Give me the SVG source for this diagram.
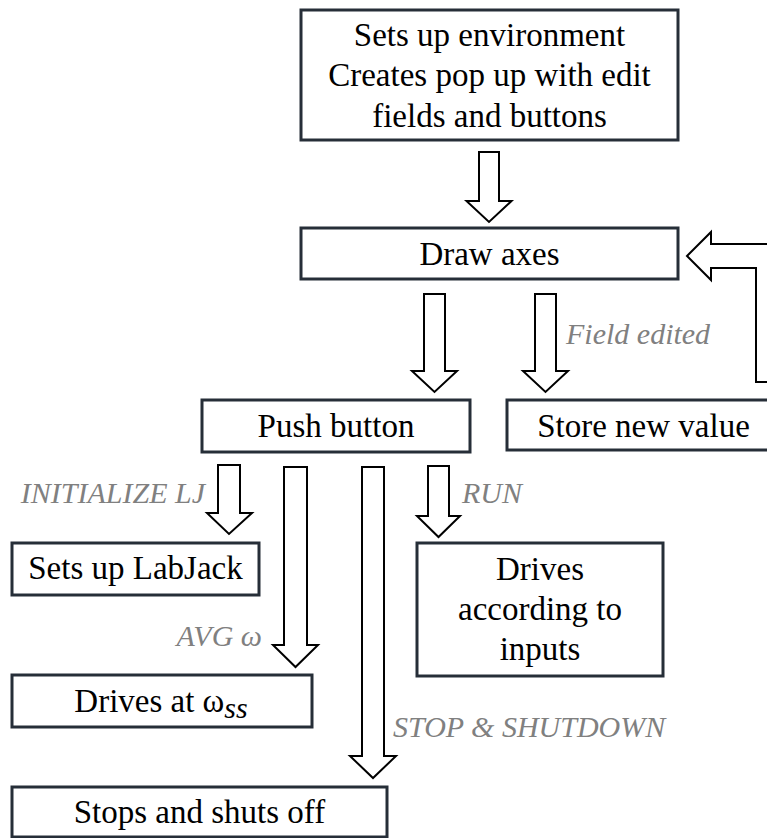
<svg xmlns="http://www.w3.org/2000/svg" width="767" height="838" viewBox="0 0 767 838">
<style>
.box{fill:#ffffff;stroke:#262e38;stroke-width:3}
.t{font-size:33px;fill:#000000;text-anchor:middle}
.lbl{font-size:30px;font-style:italic;fill:#808080}
.arr{fill:#ffffff;stroke:#000000;stroke-width:2;stroke-linejoin:miter}
</style>
<rect width="767" height="838" fill="#ffffff"/>
<g font-family="Liberation Serif, serif">
<g id="connectors">
<path class="arr" d="M479,152 H499 V201 H511.5 L489,222 L466.5,201 H479 Z"/>
<path class="arr" d="M424,294 H445 V371 H457 L434.5,392 L412,371 H424 Z"/>
<path class="arr" d="M535,294 H556 V371 H568 L545.5,392 L523,371 H535 Z"/>
<path class="arr" d="M687,256 L711,232 V244 H780 V382 H756 V268 H711 V280 Z"/>
<path class="arr" d="M218,465 H240 V513 H252 L229,534 L207,513 H218 Z"/>
<path class="arr" d="M284,467 H307 V645 H318 L295.5,667 L273,645 H284 Z"/>
<path class="arr" d="M362,467 H384 V756 H396 L373,778 L350,756 H362 Z"/>
<path class="arr" d="M428,466 H449 V516 H460 L438.5,537 L417,516 H428 Z"/>
<text class="lbl" x="566" y="344">Field edited</text>
<text class="lbl" x="205" y="503" text-anchor="end">INITIALIZE LJ</text>
<text class="lbl" x="462" y="503">RUN</text>
<text class="lbl" x="262" y="646" text-anchor="end">AVG ω</text>
<text class="lbl" x="393" y="737">STOP &amp; SHUTDOWN</text>
</g>
<g id="setup">
<rect class="box" x="301" y="10" width="377" height="130"/>
<text class="t" x="489.5" y="46">Sets up environment</text>
<text class="t" x="489.5" y="86">Creates pop up with edit</text>
<text class="t" x="489.5" y="127">fields and buttons</text>
</g>
<g id="draw-axes">
<rect class="box" x="301" y="228" width="377" height="51"/>
<text class="t" x="489.5" y="265">Draw axes</text>
</g>
<g id="push-button">
<rect class="box" x="202" y="400" width="268" height="52"/>
<text class="t" x="336" y="437">Push button</text>
</g>
<g id="store-value">
<rect class="box" x="507" y="400" width="273" height="50"/>
<text class="t" x="643.5" y="437">Store new value</text>
</g>
<g id="labjack">
<rect class="box" x="12" y="543" width="247" height="52"/>
<text class="t" x="135.5" y="579">Sets up LabJack</text>
</g>
<g id="drives-inputs">
<rect class="box" x="417" y="543" width="246" height="133"/>
<text class="t" x="540" y="580">Drives</text>
<text class="t" x="540" y="620">according to</text>
<text class="t" x="540" y="660">inputs</text>
</g>
<g id="drives-ss">
<rect class="box" x="12" y="675" width="300" height="52"/>
<text class="t" x="161" y="712">Drives at ω<tspan font-style="italic" font-size="30" dy="6">ss</tspan></text>
</g>
<g id="stops">
<rect class="box" x="12" y="787" width="375" height="50"/>
<text class="t" x="199.5" y="823">Stops and shuts off</text>
</g>
</g>
</svg>
